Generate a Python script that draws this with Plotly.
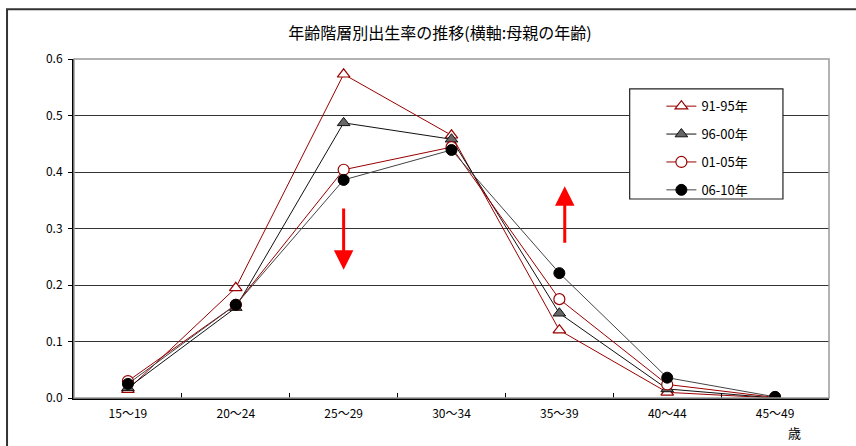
import plotly.graph_objects as go

categories = ["15〜19", "20〜24", "25〜29", "30〜34", "35〜39", "40〜44", "45〜49"]
series_names = ["91-95年", "96-00年", "01-05年", "06-10年"]
s_91_95 = [0.015, 0.195, 0.573, 0.465, 0.120, 0.010, 0.000]
s_96_00 = [0.018, 0.160, 0.487, 0.458, 0.150, 0.016, 0.000]
s_01_05 = [0.030, 0.165, 0.404, 0.444, 0.175, 0.024, 0.001]
s_06_10 = [0.025, 0.165, 0.386, 0.439, 0.221, 0.036, 0.002]
y_ticks = [0.0, 0.1, 0.2, 0.3, 0.4, 0.5, 0.6]

DARKRED = "#990000"
FONT = "Liberation Sans Narrow, Noto Sans CJK JP, sans-serif"
JFONT = "Noto Sans CJK JP, sans-serif"

styles = [
    dict(line=dict(color=DARKRED, width=1),
         marker=dict(symbol="triangle-up", size=11, color="white", line=dict(color=DARKRED, width=1.2))),
    dict(line=dict(color="#111111", width=1),
         marker=dict(symbol="triangle-up", size=11, color="#666666", line=dict(color="#111111", width=1))),
    dict(line=dict(color=DARKRED, width=1),
         marker=dict(symbol="circle", size=11, color="white", line=dict(color=DARKRED, width=1.2))),
    dict(line=dict(color="#444444", width=1),
         marker=dict(symbol="circle", size=11, color="black", line=dict(color="black", width=1))),
]

fig = go.Figure()
for name, vals, st in zip(series_names, [s_91_95, s_96_00, s_01_05, s_06_10], styles):
    fig.add_trace(go.Scatter(x=categories, y=vals, name=name, mode="lines+markers",
                             legendgroup=name, **st))

# outer frame and plot-area border
fig.add_shape(type="rect", xref="paper", yref="paper", x0=-0.0887, y0=-0.3, x1=1.2, y1=1.147,
              line=dict(color="#333333", width=2), layer="below")
fig.add_shape(type="rect", xref="paper", yref="paper", x0=0, y0=0, x1=1, y1=1,
              line=dict(color="#999999", width=1.5), layer="above")
# legend box
fig.add_shape(type="rect", xref="paper", yref="paper", x0=0.736, y0=0.587, x1=0.939, y1=0.912,
              line=dict(color="#222222", width=1.2), fillcolor="white", layer="above")

# red arrows
arrow_down = dict(x=2.0, tail=0.338, head=0.227)
arrow_up = dict(x=4.05, tail=0.272, head=0.375)
for a in (arrow_down, arrow_up):
    fig.add_annotation(x=a["x"], y=a["head"], ax=a["x"], ay=a["tail"], xref="x", yref="y",
                       axref="x", ayref="y", text="", showarrow=True, arrowhead=2,
                       arrowsize=1.3, arrowwidth=3, arrowcolor="#FF0000")

fig.add_annotation(text="歳", xref="paper", yref="paper", x=0.954, y=-0.103,
                   xanchor="center", yanchor="middle",
                   showarrow=False, font=dict(family=JFONT, size=13, color="black"))

fig.update_layout(
    width=856, height=446,
    margin=dict(l=74, r=27, t=59, b=48),
    paper_bgcolor="white", plot_bgcolor="white",
    title=dict(text="年齢階層別出生率の推移(横軸:母親の年齢)", x=0.514, xanchor="center",
               y=0.926, yanchor="middle", font=dict(family=JFONT, size=16, color="black")),
    font=dict(family=FONT, size=12, color="black"),
    showlegend=True,
    legend=dict(x=0.778, y=0.905, xanchor="left", yanchor="top", bgcolor="rgba(0,0,0,0)",
                borderwidth=0, traceorder="grouped", tracegroupgap=8,
                font=dict(family=FONT, size=13, color="black")),
)
fig.update_xaxes(type="category", range=[-0.5, 6.5], showline=True, linecolor="black", linewidth=2,
                 ticks="inside", tickson="boundaries", ticklen=5, tickcolor="black",
                 showgrid=False, ticklabelstandoff=4, tickfont=dict(family=FONT, size=12))
fig.update_yaxes(range=[0, 0.6], tickvals=y_ticks, tickformat=".1f", showline=True,
                 linecolor="black", linewidth=2, ticks="outside", ticklen=4, tickcolor="black",
                 showgrid=True, gridcolor="#333333", gridwidth=1, zeroline=False,
                 ticklabelstandoff=3, tickfont=dict(family=FONT, size=12))

fig.write_html("out.html")
